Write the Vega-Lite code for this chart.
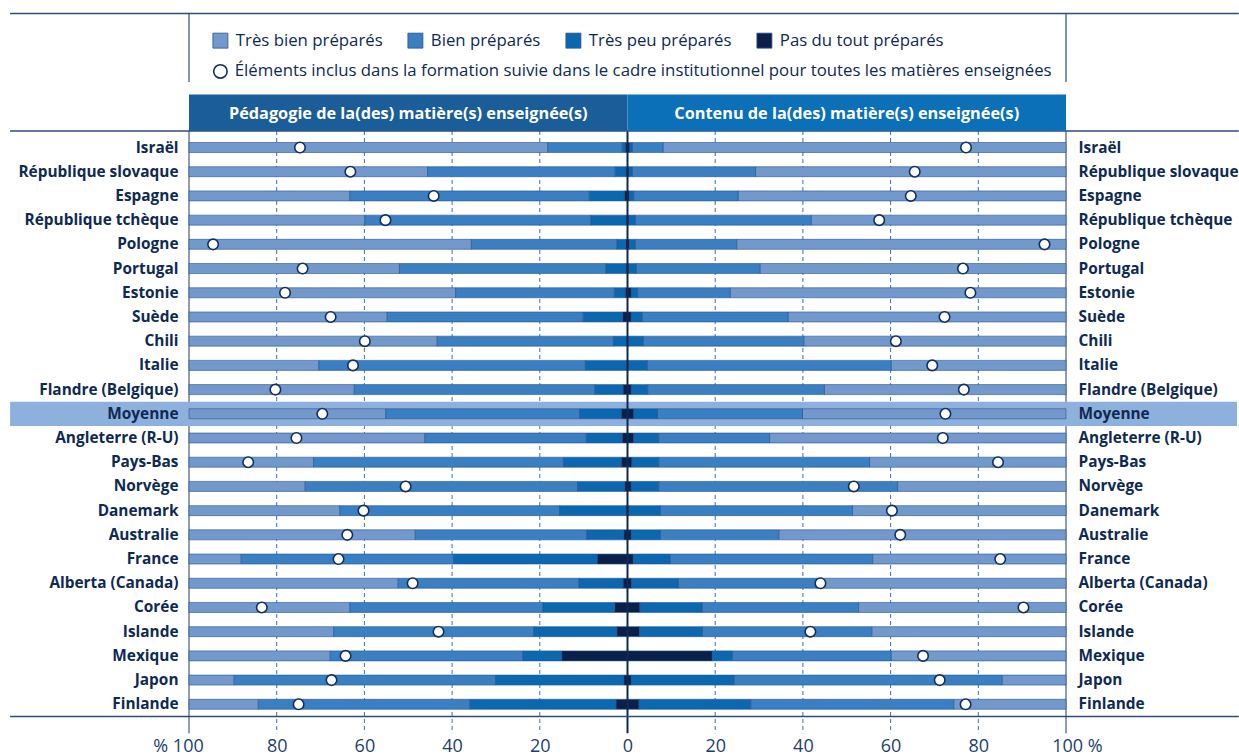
{
"$schema":"https://vega.github.io/schema/vega-lite/v6.json",
"width":877,"height":581,
"autosize":{"type":"none"},
"padding":{"left":189,"top":135.4,"right":173,"bottom":39.6},
"background":"#ffffff",
"config":{"font":"Open Sans","view":{"stroke":null},"legend":{"padding":0}},
"datasets":{"rows":[
{"pays":"Israël","volet":"P","Pas du tout préparés":-0.5,"Très peu préparés":-0.7,"Bien préparés":-17.0,"Très bien préparés":-81.8,"inclus":-74.7},
{"pays":"Israël","volet":"C","Pas du tout préparés":0.5,"Très peu préparés":0.6,"Bien préparés":7.0,"Très bien préparés":91.9,"inclus":77.2},
{"pays":"République slovaque","volet":"P","Pas du tout préparés":-0.3,"Très peu préparés":-2.5,"Bien préparés":-42.8,"Très bien préparés":-54.4,"inclus":-63.2},
{"pays":"République slovaque","volet":"C","Pas du tout préparés":0.3,"Très peu préparés":0.8,"Bien préparés":28.1,"Très bien préparés":70.8,"inclus":65.5},
{"pays":"Espagne","volet":"P","Pas du tout préparés":-0.7,"Très peu préparés":-8.0,"Bien préparés":-54.6,"Très bien préparés":-36.7,"inclus":-44.2},
{"pays":"Espagne","volet":"C","Pas du tout préparés":0.4,"Très peu préparés":1.0,"Bien préparés":23.8,"Très bien préparés":74.8,"inclus":64.6},
{"pays":"République tchèque","volet":"P","Pas du tout préparés":-0.3,"Très peu préparés":-8.1,"Bien préparés":-51.5,"Très bien préparés":-40.1,"inclus":-55.2},
{"pays":"République tchèque","volet":"C","Pas du tout préparés":0.3,"Très peu préparés":1.5,"Bien préparés":40.1,"Très bien préparés":58.1,"inclus":57.4},
{"pays":"Pologne","volet":"P","Pas du tout préparés":-0.4,"Très peu préparés":-2.0,"Bien préparés":-33.2,"Très bien préparés":-64.4,"inclus":-94.5},
{"pays":"Pologne","volet":"C","Pas du tout préparés":0.4,"Très peu préparés":1.4,"Bien préparés":23.1,"Très bien préparés":75.1,"inclus":95.1},
{"pays":"Portugal","volet":"P","Pas du tout préparés":-0.3,"Très peu préparés":-4.6,"Bien préparés":-47.1,"Très bien préparés":-48.0,"inclus":-74.1},
{"pays":"Portugal","volet":"C","Pas du tout préparés":0.3,"Très peu préparés":1.7,"Bien préparés":28.2,"Très bien préparés":69.8,"inclus":76.5},
{"pays":"Estonie","volet":"P","Pas du tout préparés":-0.5,"Très peu préparés":-2.5,"Bien préparés":-36.2,"Très bien préparés":-60.8,"inclus":-78.1},
{"pays":"Estonie","volet":"C","Pas du tout préparés":0.8,"Très peu préparés":1.5,"Bien préparés":21.1,"Très bien préparés":76.6,"inclus":78.2},
{"pays":"Suède","volet":"P","Pas du tout préparés":-1.1,"Très peu préparés":-9.0,"Bien préparés":-44.7,"Très bien préparés":-45.2,"inclus":-67.7},
{"pays":"Suède","volet":"C","Pas du tout préparés":0.8,"Très peu préparés":2.5,"Bien préparés":33.3,"Très bien préparés":63.4,"inclus":72.3},
{"pays":"Chili","volet":"P","Pas du tout préparés":-0.2,"Très peu préparés":-3.0,"Bien préparés":-40.2,"Très bien préparés":-56.6,"inclus":-59.9},
{"pays":"Chili","volet":"C","Pas du tout préparés":0.2,"Très peu préparés":3.4,"Bien préparés":36.6,"Très bien préparés":59.8,"inclus":61.2},
{"pays":"Italie","volet":"P","Pas du tout préparés":-0.2,"Très peu préparés":-9.4,"Bien préparés":-60.8,"Très bien préparés":-29.6,"inclus":-62.6},
{"pays":"Italie","volet":"C","Pas du tout préparés":0.2,"Très peu préparés":4.3,"Bien préparés":55.6,"Très bien préparés":39.9,"inclus":69.5},
{"pays":"Flandre (Belgique)","volet":"P","Pas du tout préparés":-1.0,"Très peu préparés":-6.4,"Bien préparés":-54.9,"Très bien préparés":-37.7,"inclus":-80.3},
{"pays":"Flandre (Belgique)","volet":"C","Pas du tout préparés":0.8,"Très peu préparés":3.8,"Bien préparés":40.3,"Très bien préparés":55.1,"inclus":76.7},
{"pays":"Moyenne","volet":"P","Pas du tout préparés":-1.4,"Très peu préparés":-9.5,"Bien préparés":-44.2,"Très bien préparés":-44.9,"inclus":-69.6},
{"pays":"Moyenne","volet":"C","Pas du tout préparés":1.4,"Très peu préparés":5.4,"Bien préparés":33.1,"Très bien préparés":60.1,"inclus":72.5},
{"pays":"Angleterre (R-U)","volet":"P","Pas du tout préparés":-1.2,"Très peu préparés":-8.2,"Bien préparés":-36.8,"Très bien préparés":-53.8,"inclus":-75.5},
{"pays":"Angleterre (R-U)","volet":"C","Pas du tout préparés":1.4,"Très peu préparés":5.7,"Bien préparés":25.3,"Très bien préparés":67.6,"inclus":71.9},
{"pays":"Pays-Bas","volet":"P","Pas du tout préparés":-1.4,"Très peu préparés":-13.2,"Bien préparés":-57.0,"Très bien préparés":-28.4,"inclus":-86.5},
{"pays":"Pays-Bas","volet":"C","Pas du tout préparés":1.0,"Très peu préparés":6.1,"Bien préparés":48.1,"Très bien préparés":44.8,"inclus":84.5},
{"pays":"Norvège","volet":"P","Pas du tout préparés":-0.6,"Très peu préparés":-10.8,"Bien préparés":-62.1,"Très bien préparés":-26.5,"inclus":-50.6},
{"pays":"Norvège","volet":"C","Pas du tout préparés":0.8,"Très peu préparés":6.3,"Bien préparés":54.5,"Très bien préparés":38.4,"inclus":51.6},
{"pays":"Danemark","volet":"P","Pas du tout préparés":-0.3,"Très peu préparés":-15.2,"Bien préparés":-50.1,"Très bien préparés":-34.4,"inclus":-60.2},
{"pays":"Danemark","volet":"C","Pas du tout préparés":0.3,"Très peu préparés":7.2,"Bien préparés":43.8,"Très bien préparés":48.7,"inclus":60.3},
{"pays":"Australie","volet":"P","Pas du tout préparés":-0.8,"Très peu préparés":-8.5,"Bien préparés":-39.1,"Très bien préparés":-51.6,"inclus":-63.9},
{"pays":"Australie","volet":"C","Pas du tout préparés":0.8,"Très peu préparés":6.7,"Bien préparés":27.0,"Très bien préparés":65.5,"inclus":62.2},
{"pays":"France","volet":"P","Pas du tout préparés":-6.9,"Très peu préparés":-32.8,"Bien préparés":-48.4,"Très bien préparés":-11.9,"inclus":-65.9},
{"pays":"France","volet":"C","Pas du tout préparés":1.3,"Très peu préparés":8.4,"Bien préparés":46.2,"Très bien préparés":44.1,"inclus":85.0},
{"pays":"Alberta (Canada)","volet":"P","Pas du tout préparés":-1.0,"Très peu préparés":-10.1,"Bien préparés":-41.2,"Très bien préparés":-47.7,"inclus":-49.0},
{"pays":"Alberta (Canada)","volet":"C","Pas du tout préparés":0.9,"Très peu préparés":10.7,"Bien préparés":31.5,"Très bien préparés":56.9,"inclus":44.0},
{"pays":"Corée","volet":"P","Pas du tout préparés":-2.9,"Très peu préparés":-16.4,"Bien préparés":-44.0,"Très bien préparés":-36.7,"inclus":-83.4},
{"pays":"Corée","volet":"C","Pas du tout préparés":2.8,"Très peu préparés":14.2,"Bien préparés":35.7,"Très bien préparés":47.3,"inclus":90.3},
{"pays":"Islande","volet":"P","Pas du tout préparés":-2.4,"Très peu préparés":-19.0,"Bien préparés":-45.6,"Très bien préparés":-33.0,"inclus":-43.1},
{"pays":"Islande","volet":"C","Pas du tout préparés":2.7,"Très peu préparés":14.4,"Bien préparés":38.6,"Très bien préparés":44.3,"inclus":41.7},
{"pays":"Mexique","volet":"P","Pas du tout préparés":-15.0,"Très peu préparés":-8.9,"Bien préparés":-43.9,"Très bien préparés":-32.2,"inclus":-64.3},
{"pays":"Mexique","volet":"C","Pas du tout préparés":19.3,"Très peu préparés":4.6,"Bien préparés":36.2,"Très bien préparés":39.9,"inclus":67.4},
{"pays":"Japon","volet":"P","Pas du tout préparés":-0.8,"Très peu préparés":-29.3,"Bien préparés":-59.6,"Très bien préparés":-10.3,"inclus":-67.5},
{"pays":"Japon","volet":"C","Pas du tout préparés":0.8,"Très peu préparés":23.5,"Bien préparés":61.1,"Très bien préparés":14.6,"inclus":71.2},
{"pays":"Finlande","volet":"P","Pas du tout préparés":-2.6,"Très peu préparés":-33.3,"Bien préparés":-48.3,"Très bien préparés":-15.8,"inclus":-75.0},
{"pays":"Finlande","volet":"C","Pas du tout préparés":2.6,"Très peu préparés":25.5,"Bien préparés":46.3,"Très bien préparés":25.6,"inclus":77.1}
]},
"layer":[
{"data":{"values":[{"g":-80},{"g":-60},{"g":-40},{"g":-20},{"g":20},{"g":40},{"g":60},{"g":80}]},
 "mark":{"type":"rule","color":"#3c6fae","strokeWidth":1,"strokeDash":[4,3],"yOffset":-16.5,"y2Offset":29},
 "encoding":{
  "x":{"field":"g","type":"quantitative","scale":{"domain":[-100,100],"nice":false},
   "axis":{"title":null,"values":[-100,-80,-60,-40,-20,0,20,40,60,80,100],
    "labelExpr":"datum.value === -100 ? '% 100' : datum.value === 100 ? '100 %' : '' + abs(datum.value)",
    "labelOffset":{"condition":[{"test":"datum.value === -100","value":-11},{"test":"datum.value === 100","value":11}],"value":0},
    "labelFlush":false,"labelOverlap":false,"labelBound":false,"labelFont":"Open Sans","labelFontSize":18,"labelColor":"#1d3f6e","labelPadding":21,
    "domain":false,"ticks":false,"grid":false,"orient":"bottom"}},
  "y":{"datum":"Israël","type":"nominal","axis":null},
  "y2":{"datum":"Finlande"}}},
{"data":{"values":[{"g":-100},{"g":100}]},
 "mark":{"type":"rule","color":"#1d3d6b","strokeWidth":1,"yOffset":-16.5,"y2Offset":29},
 "encoding":{
  "x":{"field":"g","type":"quantitative","axis":null},
  "y":{"datum":"Israël","type":"nominal","axis":null},
  "y2":{"datum":"Finlande"}}},
{"data":{"values":[{}]},
 "mark":{"type":"rule","strokeWidth":24.2,"strokeCap":"butt","color":"#8eb0dd"},
 "encoding":{
  "x":{"datum":-140.8,"type":"quantitative","axis":null},
  "x2":{"datum":139.0},
  "y":{"datum":"Moyenne","type":"nominal","axis":null}}},
{"data":{"name":"rows"},
 "transform":[
  {"fold":["Très bien préparés","Bien préparés","Très peu préparés","Pas du tout préparés"],"as":["cat","v"]},
  {"calculate":"indexof(['Pas du tout préparés','Très peu préparés','Bien préparés','Très bien préparés'], datum.cat)","as":"o"}],
 "mark":{"type":"bar","stroke":"#27558e","strokeWidth":0.6},
 "encoding":{
  "x":{"field":"v","type":"quantitative","stack":"zero","scale":{"domain":[-100,100],"nice":false},"axis":null},
  "y":{"field":"pays","type":"nominal","sort":null,
   "scale":{"domain":["Israël","République slovaque","Espagne","République tchèque","Pologne","Portugal","Estonie","Suède","Chili","Italie","Flandre (Belgique)","Moyenne","Angleterre (R-U)","Pays-Bas","Norvège","Danemark","Australie","France","Alberta (Canada)","Corée","Islande","Mexique","Japon","Finlande"],"paddingInner":0.587,"paddingOuter":0.2935},
   "axis":{"title":null,"orient":"left","domain":false,"ticks":false,"grid":false,"labelPadding":11,"labelFont":"Open Sans","labelFontSize":15.4,"labelFontWeight":"bold","labelColor":"#0f2a52","labelLimit":400,"zindex":1}},
  "color":{"field":"cat","type":"nominal",
   "scale":{"domain":["Très bien préparés","Bien préparés","Très peu préparés","Pas du tout préparés"],"range":["#7399cc","#3a7fc2","#0b67b0","#0b1f4b"]},
   "legend":{"orient":"none","legendX":23,"legendY":-103.4,"direction":"horizontal","columns":4,"title":null,"symbolType":"square","symbolSize":225,"symbolStrokeColor":"#27558e","symbolStrokeWidth":0.8,"labelFont":"Open Sans","labelFontSize":16.8,"labelColor":"#0f2a52","labelOffset":7,"columnPadding":23,"labelLimit":400}},
  "order":{"field":"o","type":"quantitative"}}},
{"data":{"values":[{}]},
 "mark":{"type":"rule","color":"#0f2a52","strokeWidth":2,"yOffset":-16.5,"y2Offset":29},
 "encoding":{
  "x":{"datum":0,"type":"quantitative","axis":null},
  "y":{"datum":"Israël","type":"nominal","axis":null},
  "y2":{"datum":"Finlande"}}},
{"data":{"name":"rows"},
 "mark":{"type":"point","shape":"circle","filled":false,"fill":"#ffffff","strokeWidth":1.6,"size":110,"opacity":1,"fillOpacity":1,"strokeOpacity":1},
 "encoding":{
  "x":{"field":"inclus","type":"quantitative","axis":null},
  "y":{"field":"pays","type":"nominal","sort":null,
   "axis":{"title":null,"orient":"right","domain":false,"ticks":false,"grid":false,"labelPadding":12,"labelFont":"Open Sans","labelFontSize":15.4,"labelFontWeight":"bold","labelColor":"#0f2a52","labelLimit":400,"zindex":1}},
  "stroke":{"datum":"Éléments inclus dans la formation suivie dans le cadre institutionnel pour toutes les matières enseignées","type":"nominal",
   "scale":{"range":["#13305a"]},
   "legend":{"orient":"none","legendX":23,"legendY":-72.4,"title":null,"symbolType":"circle","symbolSize":180,"symbolFillColor":"#ffffff","symbolStrokeWidth":1.6,"labelFont":"Open Sans","labelFontSize":16.8,"labelColor":"#0f2a52","labelOffset":6,"labelLimit":1000}}}},
{"data":{"values":[{}]},
 "mark":{"type":"rule","color":"#2d4d7c","strokeWidth":1.3,"yOffset":-16.5},
 "encoding":{
  "x":{"datum":-140.8,"type":"quantitative","axis":null},
  "x2":{"datum":139.4},
  "y":{"datum":"Israël","type":"nominal","axis":null}}},
{"data":{"values":[{}]},
 "mark":{"type":"rule","color":"#2d4d7c","strokeWidth":1.5,"yOffset":12.2},
 "encoding":{
  "x":{"datum":-140.8,"type":"quantitative","axis":null},
  "x2":{"datum":139.4},
  "y":{"datum":"Finlande","type":"nominal","axis":null}}},
{"data":{"values":[{"a":-100,"b":0}]},
 "mark":{"type":"rule","strokeWidth":36.5,"strokeCap":"butt","yOffset":-34.75,"color":"#1a5d99"},
 "encoding":{
  "x":{"field":"a","type":"quantitative","axis":null},
  "x2":{"field":"b"},
  "y":{"datum":"Israël","type":"nominal","axis":null}}},
{"data":{"values":[{"a":0,"b":100}]},
 "mark":{"type":"rule","strokeWidth":36.5,"strokeCap":"butt","yOffset":-34.75,"color":"#0b70b8"},
 "encoding":{
  "x":{"field":"a","type":"quantitative","axis":null},
  "x2":{"field":"b"},
  "y":{"datum":"Israël","type":"nominal","axis":null}}},
{"data":{"values":[{"t":"Pédagogie de la(des) matière(s) enseignée(s)","m":-50},{"t":"Contenu de la(des) matière(s) enseignée(s)","m":50}]},
 "mark":{"type":"text","color":"#ffffff","font":"Open Sans","fontSize":16.3,"fontWeight":"bold","align":"center","baseline":"middle","yOffset":-34},
 "encoding":{
  "x":{"field":"m","type":"quantitative","axis":null},
  "y":{"datum":"Israël","type":"nominal","axis":null},
  "text":{"field":"t"}}},
{"data":{"values":[{}]},
 "mark":{"type":"rule","color":"#2d4d7c","strokeWidth":1.3,"yOffset":-134},
 "encoding":{
  "x":{"datum":-140.8,"type":"quantitative","axis":null},
  "x2":{"datum":139.4},
  "y":{"datum":"Israël","type":"nominal","axis":null}}},
{"data":{"values":[{"a":-100},{"a":100}]},
 "mark":{"type":"rule","color":"#2d4d7c","strokeWidth":1.2,"yOffset":-134,"y2Offset":-65.5},
 "encoding":{
  "x":{"field":"a","type":"quantitative","axis":null},
  "y":{"datum":"Israël","type":"nominal","axis":null},
  "y2":{"datum":"Israël"}}}
],
"resolve":{"axis":{"x":"independent","y":"independent"}}
}
